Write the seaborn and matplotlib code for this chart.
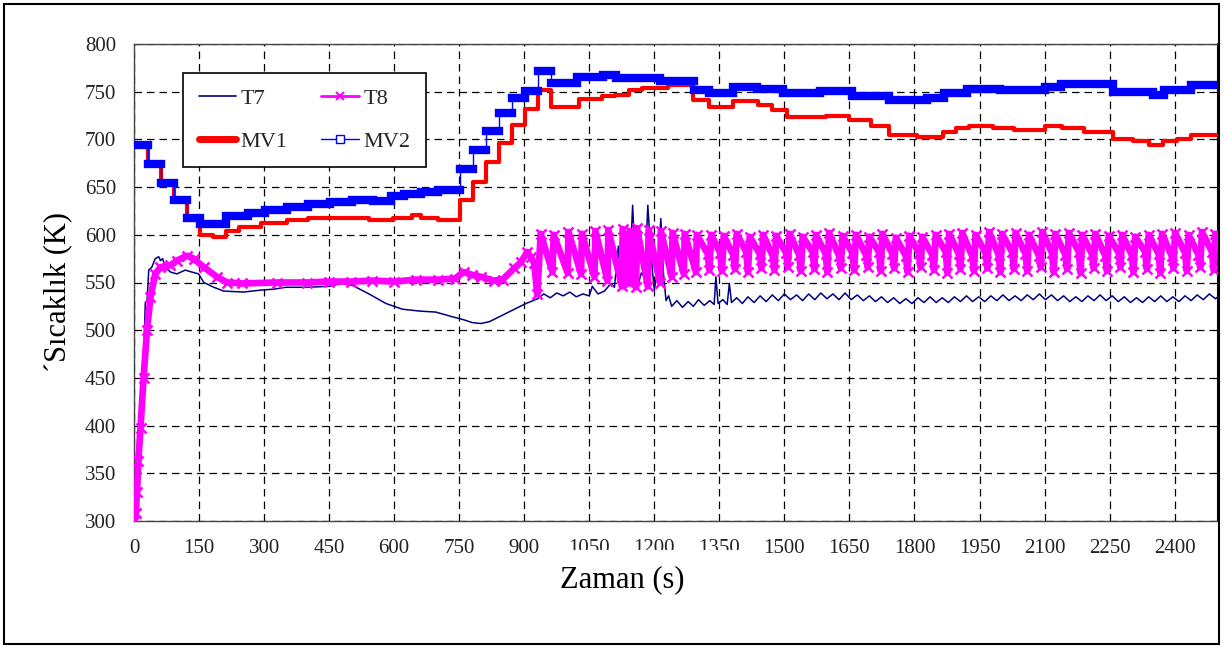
import matplotlib
matplotlib.use("Agg")
import matplotlib.pyplot as plt
from matplotlib.lines import Line2D
from matplotlib.patches import Rectangle
import seaborn as sns

# ---------------- measured series ----------------
# T7 thermocouple (s, K)
t7_time = [0, 5, 11, 18, 22, 26, 30, 34, 41, 49, 57, 61, 66, 72, 84, 99, 118, 133, 149,
           161, 184, 207, 253, 292, 322, 350, 400, 450, 480, 504, 542, 581, 619, 660,
           696, 735, 760, 780, 800, 820, 842, 873, 904, 931,
           945, 960, 975, 990, 1005, 1020, 1035, 1050, 1057, 1070, 1085, 1100, 1108,
           1117, 1122, 1132, 1142, 1150, 1156, 1161, 1170, 1178, 1185, 1192, 1200,
           1208, 1215, 1221, 1227, 1233,
           1240, 1252, 1265, 1278, 1290, 1302, 1315, 1328, 1338, 1342, 1347, 1358,
           1368, 1373, 1378, 1390, 1403, 1416, 1430, 1444, 1458, 1472, 1486, 1500,
           1514, 1528, 1542, 1556, 1570, 1584, 1598, 1612, 1626, 1640, 1654, 1668,
           1682, 1696, 1710, 1724, 1738, 1752, 1766, 1780, 1794, 1808, 1822, 1836,
           1850, 1864, 1878, 1892, 1906, 1920, 1934, 1948, 1962, 1976, 1990, 2004,
           2018, 2032, 2046, 2060, 2074, 2088, 2102, 2116, 2130, 2144, 2158, 2172,
           2186, 2200, 2214, 2228, 2242, 2256, 2270, 2284, 2298, 2312, 2326, 2340,
           2354, 2368, 2382, 2396, 2410, 2424, 2438, 2452, 2466, 2480, 2494, 2500]
t7_temp = [300, 312, 335, 388, 465, 529, 530, 563, 566, 575, 577, 573, 575, 566, 561, 559,
           563, 561, 559, 550, 545, 541, 540, 542, 543, 545, 545, 546, 549, 547, 538,
           528, 522, 520, 519, 514, 511, 508, 507, 509, 514, 521, 528, 533,
           538, 534, 539, 536, 540, 535, 538, 536, 546, 538, 541, 549, 545,
           588, 550, 556, 548, 631, 570, 545, 560, 555, 631, 580, 542,
           565, 617, 560, 531, 536,
           525, 531, 524, 530, 525, 532, 526, 531, 527, 556, 528, 532,
           527, 549, 529, 534, 528, 535, 529, 536, 530, 537, 531, 538,
           532, 537, 531, 538, 532, 539, 533, 538, 532, 539, 532, 537,
           531, 536, 530, 535, 529, 534, 528, 533, 528, 534, 529, 535,
           529, 534, 529, 535, 530, 536, 530, 535, 530, 536, 531, 537,
           531, 536, 531, 537, 532, 538, 532, 537, 531, 536, 530, 535,
           530, 536, 531, 537, 531, 536, 530, 535, 529, 534, 529, 535,
           530, 536, 530, 535, 530, 536, 531, 537, 532, 538, 533, 535]

# T8 thermocouple (s, K)
t8_time = [0, 4, 7, 10, 15, 22, 30, 38, 49, 61, 84, 99, 122, 138, 161, 191, 215, 250,
           330, 400, 450, 500, 550, 600, 650, 700, 740, 760, 780, 800, 830, 850, 877,
           892, 907, 915, 923, 930,
           938, 965, 968, 1000, 1002, 1031, 1033, 1062, 1064, 1092, 1094, 1125, 1127,
           1142, 1144, 1158, 1160, 1185, 1187, 1213, 1215, 1240, 1242, 1268, 1270,
           1296, 1298,
           1323, 1327, 1331, 1352, 1356, 1360, 1382, 1386, 1390, 1412, 1416, 1420,
           1443, 1447, 1451, 1473, 1477, 1481, 1504, 1508, 1512, 1534, 1538, 1542,
           1565, 1569, 1573, 1595, 1599, 1603, 1626, 1630, 1634, 1657, 1661, 1665,
           1688, 1692, 1696, 1718, 1722, 1726, 1749, 1753, 1757, 1780, 1784, 1788,
           1810, 1814, 1818, 1841, 1845, 1849, 1872, 1876, 1880, 1902, 1906, 1910,
           1933, 1937, 1941, 1964, 1968, 1972, 1994, 1998, 2002, 2025, 2029, 2033,
           2056, 2060, 2064, 2087, 2091, 2095, 2117, 2121, 2125, 2148, 2152, 2156,
           2179, 2183, 2187, 2209, 2213, 2217, 2240, 2244, 2248, 2271, 2275, 2279,
           2301, 2305, 2309, 2332, 2336, 2340, 2363, 2367, 2371, 2393, 2397, 2401,
           2424, 2428, 2432, 2455, 2459, 2463, 2486, 2490, 2494, 2500]
t8_temp = [300, 308, 330, 363, 398, 450, 500, 535, 559, 566, 568, 573, 578, 575, 566, 556,
           550, 549, 550, 550, 551, 551, 552, 551, 553, 553, 554, 561, 558, 556, 552,
           553, 565, 571, 582, 577, 570, 538,
           601, 561, 600, 560, 603, 559, 601, 556, 604, 552, 605, 546, 606,
           549, 604, 545, 607, 546, 605, 550, 604, 556, 602, 559, 601,
           561, 600,
           580, 563, 600, 581, 562, 599, 579, 564, 601, 582, 561, 598,
           580, 565, 600, 578, 563, 599, 581, 566, 601, 579, 562, 598,
           582, 564, 600, 580, 561, 602, 578, 565, 599, 581, 563, 600,
           579, 566, 598, 582, 562, 601, 580, 565, 597, 578, 561, 599,
           581, 566, 598, 579, 563, 600, 582, 560, 601, 580, 564, 602,
           578, 562, 600, 581, 565, 603, 579, 561, 601, 582, 564, 602,
           580, 562, 600, 578, 566, 603, 581, 561, 601, 579, 564, 602,
           582, 560, 600, 580, 565, 601, 578, 562, 599, 581, 566, 600,
           579, 561, 598, 582, 564, 600, 580, 560, 601, 578, 565, 602,
           581, 562, 600, 579, 566, 603, 582, 563, 601, 597]

# Manipulated variable 1 (step changes: start time, value)
mv1_time = [0, 32, 62, 92, 122, 152, 182, 212, 242, 292, 352, 402, 542, 597, 642, 662,
            702, 752, 782, 812, 842, 872, 902, 932, 962, 1027, 1080, 1110, 1142, 1172,
            1232, 1290, 1327, 1382, 1440, 1472, 1505, 1597, 1650, 1700, 1742, 1805,
            1835, 1865, 1895, 1925, 1980, 2030, 2100, 2140, 2190, 2257, 2305, 2340,
            2373, 2405, 2437, 2500]
mv1_temp = [694, 674, 654, 637, 616, 600, 598, 604, 608, 612, 615, 618, 615, 618, 621, 618,
            615, 636, 655, 676, 696, 715, 732, 752, 734, 742, 745, 747, 752, 754,
            757, 741, 734, 740, 736, 731, 724, 725, 720, 714, 705, 703,
            702, 708, 712, 714, 712, 710, 714, 712, 708, 700, 698, 694,
            698, 700, 705, 705]

# Manipulated variable 2 (step changes: start time, value)
mv2_time = [0, 32, 62, 92, 122, 152, 212, 262, 302, 352, 402, 452, 502, 552, 592, 622,
            662, 702, 752, 782, 812, 842, 872, 902, 932, 962, 1022, 1082, 1112, 1212,
            1292, 1327, 1382, 1437, 1497, 1582, 1657, 1742, 1830, 1867, 1922, 1997,
            2102, 2137, 2257, 2350, 2375, 2437, 2500]
mv2_temp = [694, 674, 654, 637, 618, 611, 620, 623, 626, 629, 632, 634, 636, 635, 641, 643,
            645, 647, 669, 689, 709, 728, 743, 751, 772, 759, 765, 767, 764, 761,
            752, 749, 755, 753, 749, 751, 746, 741, 743, 749, 753, 752,
            755, 758, 750, 747, 752, 757, 757]

x_ticks = list(range(0, 2401, 150))
y_ticks = list(range(300, 801, 50))

C_T7, C_T8, C_MV1, C_MV2 = "#000080", "#FF00FF", "#FF0000", "#0000FF"

# ---------------- styling ----------------
sns.set_style("white")
plt.rcParams["font.family"] = ["Liberation Serif", "DejaVu Serif"]

W, H = 1225, 648
fig = plt.figure(figsize=(W / 100, H / 100), dpi=100)
ax_l, ax_r, ax_t, ax_b = 134, 1218, 44, 521
ax = fig.add_axes([ax_l / W, 1 - ax_b / H, (ax_r - ax_l) / W, (ax_b - ax_t) / H])

# ---------------- series ----------------
sns.lineplot(x=t7_time, y=t7_temp, ax=ax, color=C_T7, lw=1.1, estimator=None,
             sort=False, legend=False, zorder=3)
# densely logged T8 samples merge into a thick marker band
sns.lineplot(x=t8_time, y=t8_temp, ax=ax, color=C_T8, lw=4.8, estimator=None,
             sort=False, legend=False, marker="x", markersize=7,
             markeredgewidth=1.8, markeredgecolor=C_T8, zorder=4)
sns.lineplot(x=mv1_time, y=mv1_temp, ax=ax, color=C_MV1, lw=3.0, estimator=None,
             sort=False, legend=False, drawstyle="steps-post", zorder=5)
sns.lineplot(x=mv2_time, y=mv2_temp, ax=ax, color=C_MV2, lw=1.0, estimator=None,
             sort=False, legend=False, drawstyle="steps-post", zorder=6)
# dense square markers of MV2 form a solid bar on every hold level
bars = ax.hlines(mv2_temp[:-1], mv2_time[:-1], mv2_time[1:], colors=C_MV2,
                 linewidth=6, zorder=6)
bars.set_capstyle("projecting")

# ---------------- axes ----------------
ax.set_xlim(0, 2500)
ax.set_ylim(300, 800)
ax.set_xticks(x_ticks)
ax.set_yticks(y_ticks)
ax.set_xticklabels([str(v) for v in x_ticks])
ax.set_yticklabels([str(v) for v in y_ticks])
ax.tick_params(axis="both", direction="out", length=6, width=1, color="#444444",
               labelsize=15, labelcolor="#222222", pad=7)
ax.grid(True, color="black", linestyle=(0, (6, 4)), linewidth=0.9)
ax.set_axisbelow(True)
for side in ("left", "bottom", "top"):
    ax.spines[side].set_color("#444444")
    ax.spines[side].set_linewidth(1.0)
ax.spines["right"].set_color("black")
ax.spines["right"].set_linewidth(1.5)
ax.set_xlabel("")
ax.set_ylabel("\u00b4Sıcaklık (K)", fontsize=22, color="black")
ax.yaxis.label.set_verticalalignment("center")
ax.yaxis.set_label_coords((58 - ax_l) / (ax_r - ax_l), (ax_b - 292) / (ax_b - ax_t))

# ---------------- legend ----------------
handles = [
    Line2D([], [], color=C_T7, lw=1.2),
    Line2D([], [], color=C_MV1, lw=5, solid_capstyle="round"),
    Line2D([], [], color=C_T8, lw=2, marker="x", markersize=6, markeredgewidth=1.5),
    Line2D([], [], color=C_MV2, lw=1, marker="s", markersize=6,
           markerfacecolor="white", markeredgecolor=C_MV2, markeredgewidth=1),
]
labels = ["T7", "MV1", "T8", "MV2"]
leg = ax.legend(handles, labels, ncol=2, loc="upper left",
                bbox_to_anchor=((183 - ax_l) / (ax_r - ax_l), (ax_b - 73) / (ax_b - ax_t)),
                borderaxespad=0, fontsize=16, frameon=True, fancybox=False,
                edgecolor="black", framealpha=1, handlelength=1.7,
                handletextpad=0.2, columnspacing=1.5, labelspacing=1.0,
                borderpad=0.7, numpoints=1)
leg.get_frame().set_linewidth(1.2)
leg.set_zorder(10)

# ---------------- axis title box and outer frame ----------------
fig.patches.append(Rectangle((556 / W, 1 - 606 / H), 196 / W, 56 / H,
                             transform=fig.transFigure, facecolor="white",
                             edgecolor="none", zorder=2))
fig.text(622 / W, 1 - 580 / H, "Zaman (s)", fontsize=22, ha="center", va="center",
         color="black", zorder=3)
fig.patches.append(Rectangle((4 / W, 1 - 644 / H), (1219 - 4) / W, (644 - 4) / H,
                             transform=fig.transFigure, fill=False,
                             edgecolor="black", linewidth=1.5, zorder=4))

fig.savefig("out.png", dpi=100)
